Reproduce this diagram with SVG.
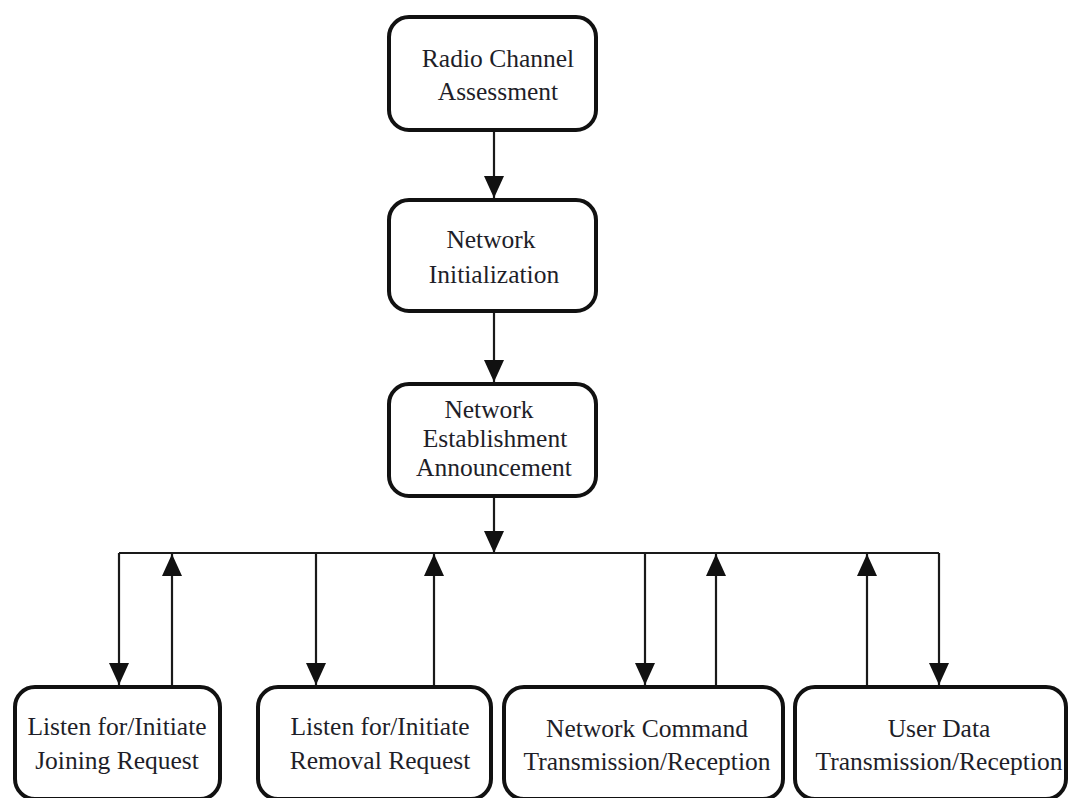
<svg xmlns="http://www.w3.org/2000/svg" width="1070" height="798" viewBox="0 0 1070 798">
  <style>
    .box { fill: #ffffff; stroke: #111111; stroke-width: 4; }
    .lbl { font-family: "Liberation Serif", "DejaVu Serif", serif; font-size: 25.5px; fill: #1e1e28; text-anchor: middle; }
    .wire { fill: none; stroke: #1a1a1a; stroke-width: 2.2; }
  </style>
  <defs>
    <marker id="head" markerUnits="userSpaceOnUse" markerWidth="22" markerHeight="20" refX="22" refY="10" orient="auto">
      <path d="M0,0 L22,10 L0,20 Z" fill="#111111"/>
    </marker>
  </defs>

  <rect width="1070" height="798" fill="#ffffff"/>

  <!-- connectors -->
  <g id="connectors">
    <line class="wire" x1="494" y1="132" x2="494" y2="198" marker-end="url(#head)"/>
    <line class="wire" x1="494" y1="313" x2="494" y2="382" marker-end="url(#head)"/>
    <line class="wire" x1="494" y1="498" x2="494" y2="553" marker-end="url(#head)"/>
    <!-- distribution bus -->
    <line class="wire" x1="119" y1="553" x2="939" y2="553"/>
    <!-- bus to lower boxes -->
    <line class="wire" x1="119" y1="553" x2="119" y2="685" marker-end="url(#head)"/>
    <line class="wire" x1="316" y1="553" x2="316" y2="685" marker-end="url(#head)"/>
    <line class="wire" x1="645" y1="553" x2="645" y2="685" marker-end="url(#head)"/>
    <line class="wire" x1="939" y1="553" x2="939" y2="685" marker-end="url(#head)"/>
    <!-- lower boxes back to bus -->
    <line class="wire" x1="172" y1="685" x2="172" y2="554" marker-end="url(#head)"/>
    <line class="wire" x1="434" y1="685" x2="434" y2="554" marker-end="url(#head)"/>
    <line class="wire" x1="716" y1="685" x2="716" y2="554" marker-end="url(#head)"/>
    <line class="wire" x1="867" y1="685" x2="867" y2="554" marker-end="url(#head)"/>
  </g>

  <g id="radio-channel-assessment">
    <rect class="box" x="389" y="17" width="207" height="113" rx="20"/>
    <text class="lbl" x="498" y="67">Radio Channel</text>
    <text class="lbl" x="498" y="100">Assessment</text>
  </g>

  <g id="network-initialization">
    <rect class="box" x="389" y="200" width="207" height="111" rx="20"/>
    <text class="lbl" x="491" y="248">Network</text>
    <text class="lbl" x="494" y="283">Initialization</text>
  </g>

  <g id="network-establishment">
    <rect class="box" x="389" y="384" width="207" height="112" rx="20"/>
    <text class="lbl" x="489" y="418">Network</text>
    <text class="lbl" x="495" y="447">Establishment</text>
    <text class="lbl" x="494" y="476">Announcement</text>
  </g>

  <g id="joining-request">
    <rect class="box" x="15" y="687" width="205" height="112" rx="20"/>
    <text class="lbl" x="117" y="735">Listen for/Initiate</text>
    <text class="lbl" x="117" y="769">Joining Request</text>
  </g>

  <g id="removal-request">
    <rect class="box" x="258" y="687" width="233" height="112" rx="20"/>
    <text class="lbl" x="380" y="735">Listen for/Initiate</text>
    <text class="lbl" x="380" y="769">Removal Request</text>
  </g>

  <g id="network-command">
    <rect class="box" x="504" y="687" width="279" height="112" rx="20"/>
    <text class="lbl" x="647" y="737">Network Command</text>
    <text class="lbl" x="647" y="770">Transmission/Reception</text>
  </g>

  <g id="user-data">
    <rect class="box" x="795" y="687" width="271" height="112" rx="20"/>
    <text class="lbl" x="939" y="737">User Data</text>
    <text class="lbl" x="939" y="770">Transmission/Reception</text>
  </g>
</svg>
